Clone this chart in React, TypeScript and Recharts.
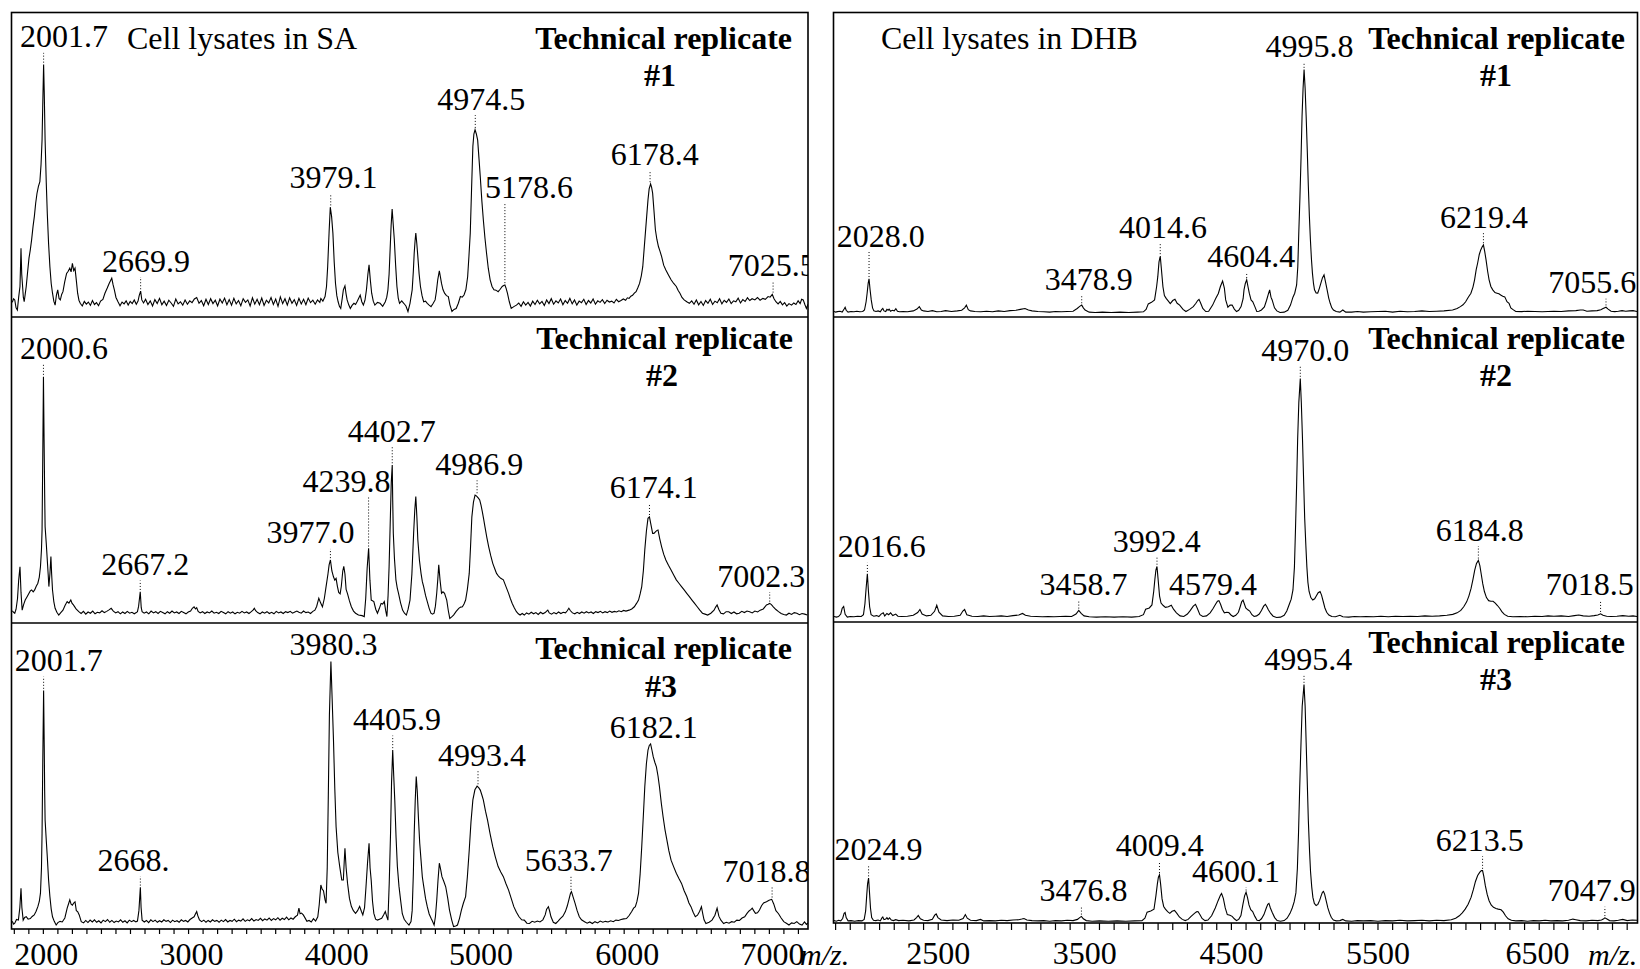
import { LineChart, Line, XAxis, YAxis, ReferenceLine, ReferenceDot } from "recharts";

type Pt = [number, number];
interface Peak {
  mz: number;
  top: number;
  text: string;
  lx: number;
  ly: number;
}

// m/z, relative intensity (0 = panel floor, 100 = panel top)
const saRep1: Pt[] = [
  [1786, 4.8], [1795, 6.0], [1803, 5.6], [1812, 3.0], [1821, 2.3], [1830, 6.5], [1839, 10], [1846, 22.5], [1851, 14], [1857, 10],
  [1862, 6.5], [1868, 5], [1875, 7.5], [1882, 10], [1890, 14], [1901, 19.3], [1910, 22], [1919, 25.3], [1929, 29.7], [1938, 33],
  [1947, 37.3], [1956, 40.5], [1966, 42.8], [1976, 44.4], [1984, 50], [1991, 58], [1996, 70], [2001.7, 82.8], [2006, 74], [2012, 58],
  [2020, 44], [2027, 34], [2036, 24], [2045, 16.5], [2054, 11], [2063, 7.8], [2072, 5.2], [2081, 3.9], [2090, 7.2], [2099, 8.9],
  [2108, 6.1], [2117, 5.6], [2126, 7.4], [2135, 8.3], [2147, 11.5], [2160, 14.3], [2171, 15], [2182, 16], [2191, 14.8], [2200, 17.6],
  [2209, 15.2], [2218, 16], [2227, 12], [2236, 7.8], [2245, 5.5], [2254, 4.5], [2268, 3.6], [2282, 5.1], [2296, 4.2], [2310, 4.9],
  [2324, 3.8], [2338, 5.4], [2352, 4.1], [2366, 4.7], [2380, 3.7], [2394, 5.2], [2410, 5.8], [2424, 7.8], [2440, 9.5], [2453, 11],
  [2471, 12.7], [2480, 10.6], [2489, 8.9], [2500, 6.4], [2514, 5], [2528, 3.7], [2542, 4.9], [2556, 4.3], [2570, 5.3], [2584, 3.9],
  [2598, 5.1], [2612, 4.4], [2626, 5.6], [2640, 4.2], [2652, 5.2], [2660, 7], [2669.9, 8.5], [2678, 5.6], [2690, 4.6], [2704, 5.8],
  [2720, 4.1], [2736, 5.3], [2752, 3.6], [2768, 5.7], [2784, 4.4], [2800, 6.1], [2816, 4.0], [2832, 5.2], [2848, 3.8], [2864, 5.5],
  [2880, 4.6], [2896, 3.5], [2912, 5.9], [2928, 4.3], [2944, 5.0], [2960, 3.9], [2976, 5.6], [2992, 4.2], [3008, 5.3], [3024, 4.7],
  [3040, 5.9], [3056, 6.4], [3072, 4.5], [3088, 5.4], [3104, 3.7], [3120, 5.8], [3136, 4.1], [3152, 6.0], [3168, 4.4], [3184, 5.5],
  [3200, 3.6], [3216, 5.9], [3232, 4.6], [3248, 6.2], [3264, 4.0], [3280, 5.7], [3296, 3.9], [3312, 6.1], [3328, 4.3], [3344, 5.4],
  [3360, 3.7], [3376, 6.0], [3392, 4.8], [3408, 5.6], [3424, 3.6], [3440, 6.3], [3456, 4.2], [3472, 5.8], [3488, 4.0], [3504, 6.2],
  [3520, 3.8], [3536, 5.5], [3552, 4.6], [3568, 6.4], [3584, 4.1], [3600, 5.9], [3616, 3.5], [3632, 6.6], [3648, 4.4], [3664, 6.0],
  [3680, 3.9], [3696, 6.3], [3712, 4.5], [3728, 5.7], [3744, 3.8], [3760, 6.1], [3776, 4.3], [3792, 5.8], [3808, 4.0], [3824, 6.2],
  [3840, 4.7], [3856, 5.5], [3872, 4.2], [3888, 5.6], [3904, 4.8], [3911, 6.1], [3925, 5.2], [3940, 6.7], [3950, 10], [3958, 16.5],
  [3968, 28], [3976, 36], [3985, 33], [3994, 27.5], [4003, 18], [4012, 11], [4021, 7], [4030, 5], [4039, 3.5], [4048, 2.8],
  [4058, 6], [4066, 8.9], [4077, 10.2], [4085, 7.5], [4092, 5.6], [4103, 4], [4114, 2.8], [4126, 3.8], [4139, 4.5], [4150, 4.1],
  [4162, 5.2], [4175, 6.5], [4182, 7.2], [4193, 5.0], [4204, 3.9], [4215, 5.5], [4225, 8.9], [4235, 14], [4243, 17.1], [4252, 12],
  [4261, 7.8], [4272, 5.2], [4283, 3.9], [4301, 4.8], [4319, 4.5], [4337, 3.5], [4355, 5], [4365, 6.5], [4373, 8.9], [4381, 14],
  [4388, 22], [4395, 30], [4402, 35.4], [4410, 30], [4417, 25.3], [4426, 17], [4435, 10], [4444, 6.2], [4453, 4.5], [4468, 5.3],
  [4482, 4.5], [4497, 3.6], [4511, 1.8], [4525, 4.5], [4540, 8.9], [4548, 15], [4554, 21], [4560, 25], [4565, 27.5], [4572, 24],
  [4579, 19.8], [4588, 14], [4597, 10], [4608, 7], [4619, 5], [4632, 5.2], [4644, 4.5], [4657, 3.9], [4670, 3.4], [4684, 4.4],
  [4698, 5.6], [4707, 8.5], [4716, 12.2], [4727, 15.1], [4735, 13], [4742, 11], [4752, 9], [4763, 7.8], [4776, 7.0], [4789, 6.7],
  [4800, 4.0], [4814, 1.8], [4828, 2.5], [4843, 2.8], [4858, 4.5], [4872, 6.7], [4885, 6.5], [4897, 7.2], [4910, 9], [4922, 13.2],
  [4931, 20], [4940, 27.5], [4949, 42], [4958, 56], [4965, 60], [4973, 61.4], [4982, 60], [4991, 58], [5000, 52], [5009, 46],
  [5020, 38], [5030, 31.9], [5041, 26], [5052, 21], [5064, 16], [5077, 12.2], [5090, 10], [5103, 8.9], [5117, 8.8], [5132, 8.3],
  [5146, 9.1], [5160, 10], [5170, 10.3], [5178.6, 10.5], [5187, 9.4], [5196, 7.8], [5209, 5], [5222, 2.8], [5240, 3.4], [5258, 3.9],
  [5274, 4.6], [5290, 3.5], [5306, 5.0], [5322, 3.9], [5338, 4.8], [5354, 3.6], [5370, 5.2], [5386, 4.1], [5402, 5.5], [5418, 4.3],
  [5434, 5.1], [5450, 3.8], [5466, 5.6], [5482, 4.4], [5498, 6.0], [5514, 4.2], [5530, 5.3], [5546, 4.6], [5562, 5.9], [5578, 4.0],
  [5594, 5.4], [5610, 4.5], [5626, 6.1], [5642, 4.3], [5658, 5.6], [5674, 3.9], [5690, 5.2], [5706, 4.7], [5722, 5.8], [5738, 4.1],
  [5754, 5.4], [5770, 4.6], [5786, 5.9], [5802, 4.2], [5818, 5.3], [5834, 4.8], [5850, 5.7], [5866, 4.4], [5882, 5.5], [5898, 4.9],
  [5914, 5.2], [5930, 4.6], [5946, 5.8], [5962, 5.0], [5978, 5.4], [5994, 5.9], [6010, 5.5], [6022, 6.3], [6034, 6.1], [6046, 6.8],
  [6058, 7.1], [6070, 7.8], [6082, 8.3], [6094, 9.6], [6106, 11], [6118, 13.5], [6128, 16.5], [6137, 22], [6146, 27.5], [6155, 33],
  [6164, 38.4], [6172, 42], [6182, 43.6], [6189, 42.5], [6196, 40.6], [6205, 35], [6215, 28.6], [6225, 25.5], [6236, 23.1], [6247, 21.5],
  [6258, 19.8], [6272, 17], [6287, 15.4], [6305, 13.8], [6323, 12.2], [6341, 11], [6359, 10], [6372, 8.7], [6384, 7.8], [6398, 6.4],
  [6413, 5.6], [6431, 5.0], [6449, 4.5], [6465, 5.3], [6481, 4.2], [6497, 5.6], [6513, 4.0], [6529, 5.1], [6545, 3.8], [6561, 5.4],
  [6577, 4.5], [6593, 5.8], [6609, 4.1], [6625, 5.2], [6641, 4.7], [6657, 6.0], [6673, 4.3], [6689, 5.5], [6705, 4.8], [6721, 5.9],
  [6737, 4.4], [6753, 5.3], [6769, 5.0], [6785, 6.2], [6801, 4.6], [6817, 5.7], [6833, 5.1], [6849, 6.3], [6865, 5.4], [6881, 6.0],
  [6900, 5.6], [6918, 6.4], [6936, 5.5], [6955, 6.1], [6972, 5.8], [6991, 6.7], [7005, 6.5], [7020, 7.4], [7032, 6.0], [7045, 5],
  [7060, 4.3], [7075, 5.1], [7090, 4.0], [7105, 4.7], [7120, 3.6], [7135, 4.4], [7153, 3.9], [7168, 4.6], [7183, 4.1], [7198, 5.3],
  [7212, 4.4], [7222, 5.8], [7233, 5.6], [7245, 4.0], [7255, 2.8], [7266, 4.2],
];

const saRep2: Pt[] = [
  [1786, 4.0], [1795, 3.5], [1803, 3.2], [1812, 4.5], [1822, 8], [1830, 14], [1839, 18.4], [1846, 10], [1854, 4.2], [1864, 6],
  [1875, 7.5], [1888, 8.6], [1901, 9.7], [1910, 10.5], [1919, 10.8], [1930, 10.2], [1940, 10.8], [1951, 12], [1962, 13], [1972, 15],
  [1980, 18.4], [1987, 24], [1991, 30.4], [1996, 55], [2000.6, 80.5], [2005, 60], [2009, 42], [2012, 31.5], [2020, 26], [2027, 20.6],
  [2033, 16], [2038, 11.9], [2045, 16], [2052, 21.7], [2057, 16], [2063, 10.8], [2072, 7], [2081, 4.8], [2093, 3.5], [2106, 2.6],
  [2120, 3.4], [2135, 4.2], [2150, 5.8], [2164, 7], [2176, 6.5], [2189, 7.5], [2198, 6.4], [2207, 5.9], [2225, 4.6], [2244, 3.7],
  [2260, 3.1], [2276, 3.8], [2292, 2.9], [2308, 3.6], [2324, 3.2], [2340, 3.9], [2356, 3.0], [2372, 3.5], [2388, 3.3], [2404, 4.0],
  [2420, 3.4], [2436, 3.8], [2452, 4.3], [2467, 4.8], [2482, 3.9], [2498, 3.3], [2514, 3.7], [2530, 3.0], [2546, 3.6], [2562, 3.1],
  [2578, 3.8], [2594, 3.2], [2610, 3.5], [2626, 3.0], [2640, 3.4], [2648, 3.7], [2656, 5.5], [2667.2, 10.2], [2674, 5.0], [2680, 3.7],
  [2694, 3.2], [2710, 3.6], [2726, 3.0], [2742, 3.9], [2758, 3.3], [2774, 3.7], [2790, 3.1], [2806, 3.8], [2822, 3.4], [2838, 3.0],
  [2854, 3.7], [2870, 3.2], [2886, 3.9], [2902, 3.3], [2918, 3.6], [2934, 3.1], [2950, 3.8], [2966, 3.4], [2982, 3.0], [2998, 3.6],
  [3014, 3.9], [3026, 4.8], [3038, 5.3], [3047, 4.6], [3056, 5.0], [3066, 3.8], [3080, 3.3], [3096, 3.7], [3112, 3.1], [3128, 3.6],
  [3144, 3.3], [3160, 3.9], [3176, 3.2], [3192, 3.5], [3208, 3.1], [3224, 3.8], [3240, 3.4], [3256, 3.0], [3272, 3.7], [3288, 3.2],
  [3304, 3.6], [3320, 3.0], [3336, 3.5], [3352, 3.2], [3368, 3.8], [3384, 3.3], [3400, 3.6], [3416, 3.1], [3432, 3.7], [3444, 4.2],
  [3453, 4.8], [3462, 4.0], [3476, 3.4], [3492, 3.0], [3508, 3.6], [3524, 3.2], [3540, 3.7], [3556, 3.1], [3572, 3.5], [3588, 3.0],
  [3604, 3.8], [3620, 3.3], [3636, 3.6], [3652, 3.1], [3668, 3.7], [3684, 3.4], [3700, 3.8], [3716, 3.2], [3732, 3.6], [3746, 3.9],
  [3760, 3.5], [3776, 3.2], [3792, 3.9], [3808, 3.4], [3824, 3.6], [3840, 3.1], [3856, 3.8], [3870, 4.2], [3882, 5.4], [3897, 8.1],
  [3910, 6.5], [3922, 5.3], [3935, 8], [3947, 11.9], [3960, 16], [3968, 19], [3977, 20.6], [3987, 17], [3998, 15.1], [4007, 14],
  [4016, 14.6], [4025, 12], [4034, 10], [4044, 9.5], [4052, 12], [4062, 17], [4069, 18.5], [4077, 16], [4085, 11], [4095, 9.5],
  [4108, 7.2], [4121, 5.3], [4136, 3.9], [4150, 3.2], [4170, 2.6], [4195, 2.4], [4210, 2.1], [4220, 8], [4230, 18], [4240, 24.4],
  [4249, 14], [4258, 7.5], [4276, 7.0], [4289, 4.5], [4301, 3.2], [4314, 4.8], [4326, 6.4], [4337, 6.2], [4348, 7.0], [4357, 4.2],
  [4366, 2.1], [4374, 9], [4381, 18.4], [4390, 35], [4396, 46], [4402.7, 51.6], [4406, 40], [4410, 29.3], [4418, 21], [4428, 14.1],
  [4437, 11.5], [4446, 9.7], [4460, 6.6], [4474, 4.2], [4487, 3.2], [4500, 2.6], [4512, 4.5], [4525, 7.5], [4538, 16], [4550, 29.3],
  [4558, 37], [4565, 41.3], [4572, 35], [4579, 27.1], [4590, 20.5], [4601, 16.2], [4610, 13.5], [4619, 11.9], [4632, 9], [4644, 7.0],
  [4657, 4.8], [4669, 3.2], [4680, 2.9], [4691, 3.2], [4700, 5.5], [4709, 9.7], [4716, 14], [4723, 19], [4732, 14], [4742, 9.7],
  [4752, 10.2], [4763, 9.7], [4778, 7.5], [4789, 4.0], [4799, 1.5], [4812, 2.0], [4825, 2.6], [4843, 3.8], [4861, 4.8], [4874, 5.2],
  [4886, 5.3], [4897, 6.2], [4908, 7.5], [4920, 11], [4933, 16.2], [4942, 25], [4951, 34.7], [4962, 39.5], [4973, 41.8], [4980, 41.6],
  [4986.9, 41.3], [4996, 40.8], [5005, 40.2], [5014, 38.5], [5023, 36.4], [5032, 34], [5041, 31.5], [5054, 28], [5067, 24.9], [5081, 22],
  [5095, 19.5], [5108, 17.8], [5121, 16.2], [5136, 15.2], [5150, 14.6], [5168, 14.1], [5186, 11.9], [5204, 9.7], [5216, 8], [5229, 6.4],
  [5243, 5.0], [5258, 3.7], [5271, 3.0], [5283, 2.6], [5298, 3.1], [5312, 2.6], [5328, 3.3], [5344, 2.9], [5360, 3.5], [5376, 3.0],
  [5392, 3.4], [5408, 2.8], [5424, 3.5], [5440, 3.0], [5456, 3.4], [5466, 3.9], [5474, 4.2], [5484, 3.3], [5500, 2.9], [5516, 3.4],
  [5532, 3.0], [5548, 3.6], [5564, 3.1], [5580, 3.5], [5596, 3.3], [5608, 4.0], [5619, 4.8], [5630, 4.0], [5644, 3.3], [5660, 3.0],
  [5676, 3.5], [5692, 3.1], [5708, 3.6], [5724, 3.2], [5740, 3.7], [5756, 3.3], [5772, 3.6], [5788, 3.1], [5804, 3.7], [5820, 3.4],
  [5836, 3.8], [5852, 3.3], [5868, 3.7], [5884, 3.4], [5900, 3.9], [5916, 3.5], [5932, 3.8], [5948, 3.6], [5964, 4.0], [5980, 3.7],
  [5996, 4.1], [6012, 3.9], [6034, 4.2], [6052, 4.6], [6070, 5.3], [6085, 6.4], [6099, 7.5], [6110, 9.5], [6121, 11.9], [6132, 17],
  [6142, 23.9], [6153, 30], [6164, 34.2], [6174.1, 34.7], [6187, 31.5], [6196, 29.3], [6205, 29.3], [6215, 29.8], [6224, 30.2], [6233, 30.4],
  [6245, 27.5], [6258, 24.9], [6272, 22.5], [6287, 20.6], [6305, 18.9], [6323, 17.3], [6341, 15.7], [6359, 14.1], [6377, 13], [6395, 11.9],
  [6413, 10.8], [6431, 9.7], [6449, 8.6], [6467, 7.5], [6485, 6.4], [6503, 5.3], [6521, 4.2], [6539, 3.2], [6557, 2.9], [6575, 2.6],
  [6597, 3.2], [6619, 4.2], [6630, 5.2], [6640, 5.9], [6652, 4.4], [6666, 3.2], [6684, 3.0], [6702, 3.7], [6720, 3.7], [6738, 3.1],
  [6756, 3.6], [6774, 3.0], [6792, 3.2], [6810, 3.8], [6828, 3.4], [6846, 3.9], [6864, 3.7], [6882, 3.3], [6900, 3.9], [6919, 3.6],
  [6937, 4.2], [6958, 4.6], [6980, 5.9], [6992, 6.1], [7002, 6.4], [7014, 6.0], [7027, 5.3], [7045, 4.4], [7063, 3.7], [7081, 3.1],
  [7099, 2.8], [7117, 2.6], [7135, 3.2], [7153, 2.8], [7171, 3.4], [7189, 3.2], [7207, 2.7], [7225, 3.1], [7243, 2.9], [7261, 2.6],
];

const saRep3: Pt[] = [
  [1786, 2.5], [1795, 1.6], [1803, 1.9], [1815, 3.1], [1828, 2.9], [1838, 7], [1846, 13.3], [1852, 7], [1861, 2.9], [1871, 3.8],
  [1882, 4.0], [1895, 3.2], [1910, 3.4], [1923, 4.1], [1937, 4.6], [1950, 5.8], [1962, 7.3], [1972, 9], [1980, 11.7], [1987, 20],
  [1991, 31.3], [1996, 55], [2001.7, 77.9], [2006, 60], [2009, 45], [2012, 35.6], [2020, 29], [2027, 23.6], [2036, 16], [2045, 10.6],
  [2054, 6.5], [2063, 4.0], [2075, 2.5], [2088, 1.3], [2100, 2.1], [2115, 2.5], [2130, 2.3], [2148, 3.6], [2164, 6.8], [2172, 8],
  [2182, 9.5], [2191, 8.1], [2200, 7.8], [2209, 8.5], [2218, 8.9], [2227, 6], [2236, 5.7], [2247, 4.6], [2261, 2.4], [2277, 2.0],
  [2292, 2.8], [2307, 2.1], [2322, 2.9], [2337, 2.3], [2352, 3.0], [2367, 2.2], [2382, 2.7], [2397, 2.0], [2412, 2.9], [2427, 2.4],
  [2442, 3.1], [2457, 2.2], [2472, 2.8], [2487, 2.1], [2502, 2.6], [2517, 2.3], [2532, 3.0], [2547, 2.2], [2562, 2.7], [2577, 2.0],
  [2592, 2.9], [2607, 2.4], [2622, 2.8], [2637, 2.3], [2648, 2.6], [2658, 6], [2668, 13.6], [2673, 7], [2680, 2.9], [2695, 2.3],
  [2710, 2.8], [2725, 2.1], [2740, 3.0], [2755, 2.4], [2770, 2.9], [2785, 2.2], [2800, 2.7], [2815, 2.3], [2830, 3.0], [2845, 2.5],
  [2860, 2.8], [2875, 2.1], [2890, 2.9], [2905, 2.4], [2920, 2.7], [2935, 2.2], [2950, 3.0], [2965, 2.5], [2980, 2.8], [2995, 2.3],
  [3010, 3.1], [3025, 3.6], [3038, 4.0], [3048, 5.0], [3056, 5.7], [3064, 4.3], [3075, 3.0], [3090, 2.4], [3105, 2.9], [3120, 2.2],
  [3135, 2.8], [3150, 2.3], [3165, 3.0], [3180, 2.5], [3195, 2.8], [3210, 2.2], [3225, 2.9], [3240, 2.4], [3255, 3.1], [3270, 2.3],
  [3285, 2.8], [3300, 2.5], [3315, 3.2], [3330, 2.4], [3345, 2.9], [3360, 2.6], [3375, 3.3], [3390, 2.5], [3405, 3.0], [3420, 2.7],
  [3435, 3.4], [3450, 2.6], [3465, 3.1], [3480, 2.8], [3495, 3.5], [3510, 2.7], [3525, 3.3], [3540, 2.9], [3555, 3.6], [3570, 2.8],
  [3585, 3.4], [3600, 3.0], [3615, 3.7], [3630, 2.9], [3645, 3.5], [3660, 3.1], [3675, 3.9], [3690, 3.0], [3705, 3.6], [3720, 3.2],
  [3735, 4.0], [3750, 4.5], [3760, 6.8], [3768, 5], [3778, 5.2], [3790, 4.6], [3800, 3.8], [3815, 2.5], [3830, 2.8], [3845, 2.3],
  [3860, 3.4], [3875, 2.6], [3890, 4], [3900, 8], [3911, 14.4], [3920, 13], [3929, 12.5], [3940, 9.5], [3947, 8.4], [3955, 20],
  [3962, 42.2], [3970, 70], [3980.3, 87.4], [3989, 75], [3998, 61.8], [4007, 46], [4016, 33.4], [4028, 25], [4041, 20.4], [4055, 16],
  [4066, 16], [4072, 22], [4077, 26.4], [4085, 20], [4095, 14.9], [4108, 10], [4121, 7.4], [4135, 6], [4150, 5.1], [4164, 6],
  [4178, 7.4], [4190, 5.8], [4200, 4.6], [4212, 7], [4222, 13.8], [4233, 22], [4243, 28], [4250, 20], [4258, 15.8], [4267, 9],
  [4276, 5.1], [4288, 3.2], [4301, 2.9], [4315, 3.2], [4330, 3.5], [4343, 4.6], [4355, 5.7], [4364, 4.2], [4373, 2.9], [4382, 15],
  [4391, 31.3], [4398, 48], [4405.9, 58.5], [4413, 50], [4420, 42.2], [4429, 30], [4438, 20.4], [4449, 14], [4460, 9.5], [4472, 5],
  [4485, 3.2], [4500, 2.2], [4518, 1.3], [4532, 2.4], [4540, 6], [4548, 18], [4554, 31.3], [4561, 42], [4568, 49.8], [4575, 45],
  [4583, 36.4], [4592, 28], [4601, 22.5], [4610, 17], [4619, 14.1], [4632, 10], [4644, 7.3], [4657, 4.9], [4670, 3.5], [4680, 2.5],
  [4691, 1.3], [4700, 4], [4709, 9.3], [4718, 16], [4727, 21.5], [4736, 19.5], [4745, 17.1], [4758, 15.5], [4771, 13.8], [4785, 10],
  [4797, 6.2], [4812, 3.0], [4825, 0.8], [4840, 1.0], [4852, 1.3], [4866, 3.5], [4879, 6.2], [4893, 8.5], [4908, 10.6], [4920, 17],
  [4933, 25.8], [4945, 35], [4958, 42.2], [4972, 45.5], [4987, 46.7], [4998, 46.2], [5009, 45.4], [5020, 43.8], [5030, 42.2], [5045, 38.5],
  [5059, 35.6], [5077, 31], [5095, 26.9], [5113, 23.5], [5132, 20.4], [5150, 18.6], [5168, 17.1], [5186, 14.8], [5204, 12.7], [5222, 10],
  [5240, 7.3], [5258, 5.5], [5276, 4.0], [5294, 3.0], [5312, 2.9], [5330, 1.9], [5348, 1.8], [5366, 2.5], [5384, 2.2], [5402, 2.6],
  [5420, 2.3], [5440, 3.0], [5456, 4.6], [5466, 6.5], [5478, 7.3], [5487, 5.8], [5496, 4.0], [5512, 2.2], [5529, 1.8], [5545, 2.6],
  [5560, 3.4], [5578, 4.2], [5595, 5.7], [5608, 7.5], [5619, 9.5], [5630, 11.6], [5637, 12.2], [5648, 10.5], [5662, 8.4], [5676, 6.0],
  [5691, 4.0], [5706, 3.0], [5727, 2.4], [5745, 1.9], [5763, 2.3], [5781, 1.8], [5799, 2.4], [5817, 2.0], [5835, 2.6], [5853, 2.2],
  [5871, 2.5], [5889, 2.3], [5907, 2.7], [5925, 2.4], [5943, 2.9], [5961, 2.8], [5979, 3.1], [5997, 3.3], [6016, 3.4], [6034, 4.4],
  [6052, 5.7], [6065, 6.8], [6077, 7.3], [6088, 9], [6099, 11.7], [6110, 18], [6121, 26.9], [6132, 37], [6142, 46.5], [6153, 54],
  [6164, 58.5], [6173, 60], [6182, 60.5], [6191, 58.5], [6200, 56.3], [6211, 54.5], [6222, 53], [6233, 50], [6243, 46.5], [6256, 41],
  [6268, 36.7], [6281, 32.5], [6294, 29.1], [6308, 25.5], [6323, 22.5], [6341, 20.3], [6359, 18.2], [6377, 16.5], [6395, 14.9], [6413, 12.5],
  [6431, 10.6], [6446, 8.5], [6460, 7.3], [6475, 5.5], [6490, 4.0], [6505, 4.5], [6520, 5.8], [6532, 7.3], [6542, 4.8], [6550, 3.0],
  [6563, 1.8], [6585, 2.2], [6605, 2.9], [6625, 4.5], [6640, 6.8], [6652, 4.2], [6666, 2.9], [6685, 1.8], [6703, 2.2], [6722, 1.9],
  [6740, 2.4], [6758, 2.2], [6776, 2.9], [6794, 2.8], [6812, 3.6], [6830, 4.0], [6846, 5.1], [6860, 5.9], [6874, 6.4], [6882, 6.8],
  [6892, 6.0], [6904, 5.1], [6918, 5.3], [6932, 6.2], [6946, 7.6], [6960, 8.5], [6980, 8.9], [6998, 9.4], [7016, 9.7], [7030, 8.2],
  [7045, 6.0], [7063, 5.0], [7081, 3.6], [7099, 2.4], [7117, 1.9], [7135, 1.3], [7153, 2.0], [7171, 1.8], [7189, 2.4], [7207, 1.6],
  [7225, 1.3], [7242, 2.3], [7255, 1.5], [7266, 2.0],
];

const dhbRep1: Pt[] = [
  [1789, 1.8], [1800, 1.6], [1812, 1.75], [1830, 1.9], [1845, 1.6], [1858, 2.6], [1865, 3.2], [1872, 2.2], [1885, 1.6], [1905, 1.8],
  [1925, 1.7], [1945, 1.9], [1965, 1.7], [1985, 1.8], [1997, 2.3], [2008, 5], [2015, 7.8], [2022, 11], [2028, 12.5], [2035, 9],
  [2043, 5.6], [2052, 3], [2061, 2.0], [2075, 1.8], [2090, 2.0], [2105, 1.7], [2114, 2.4], [2122, 2.8], [2130, 2.0], [2142, 1.8],
  [2150, 2.5], [2158, 2.2], [2165, 2.6], [2175, 1.9], [2186, 2.2], [2200, 2.0], [2211, 2.7], [2222, 1.9], [2236, 1.7], [2260, 1.8],
  [2290, 1.7], [2330, 2.0], [2355, 2.6], [2371, 3.4], [2385, 2.3], [2400, 2.0], [2430, 1.8], [2460, 2.1], [2490, 1.7], [2520, 1.8],
  [2550, 2.1], [2590, 1.8], [2630, 2.0], [2660, 2.2], [2680, 3.0], [2692, 3.9], [2705, 2.4], [2720, 2.0], [2750, 1.8], [2790, 1.7],
  [2830, 1.9], [2870, 1.7], [2910, 2.0], [2950, 1.8], [2990, 2.1], [3030, 2.2], [3060, 2.5], [3092, 2.8], [3115, 2.3], [3140, 2.0],
  [3180, 1.8], [3220, 1.7], [3260, 1.6], [3300, 1.8], [3340, 1.7], [3380, 1.8], [3420, 1.9], [3448, 2.8], [3465, 3.5], [3478.9, 3.9],
  [3490, 3.0], [3502, 2.3], [3530, 1.6], [3570, 1.5], [3620, 1.6], [3680, 1.5], [3740, 1.6], [3800, 1.5], [3860, 1.6], [3900, 1.7],
  [3918, 2.5], [3933, 4.3], [3955, 4.8], [3976, 5.6], [3990, 10], [3998, 13.3], [4006, 18], [4014.6, 20], [4022, 16], [4033, 9.9],
  [4043, 7], [4055, 6.1], [4070, 5.2], [4083, 4.4], [4100, 5.4], [4115, 5.8], [4130, 4.5], [4147, 3.9], [4170, 2.5], [4190, 1.8],
  [4215, 2.5], [4240, 3.4], [4258, 4.5], [4270, 5.4], [4279, 5.8], [4290, 4.6], [4305, 2.8], [4325, 1.8], [4345, 1.9], [4372, 3.9],
  [4392, 6], [4411, 7.7], [4425, 10], [4440, 11.8], [4452, 9.5], [4461, 5.6], [4476, 3.2], [4491, 3.9], [4505, 3.9], [4520, 2.6],
  [4535, 1.8], [4550, 2.2], [4566, 3.4], [4580, 6], [4586, 8.9], [4595, 11], [4604.4, 12.2], [4613, 10], [4622, 7.8], [4634, 5.6],
  [4646, 5.0], [4660, 3.4], [4673, 1.8], [4688, 1.9], [4705, 2.3], [4725, 3.3], [4740, 5.5], [4752, 7.5], [4761, 8.9], [4770, 6.5],
  [4778, 5.6], [4794, 3], [4810, 2], [4832, 1.5], [4860, 1.6], [4885, 2.2], [4903, 3.9], [4920, 6.5], [4932, 7.8], [4945, 10.5],
  [4953, 16.5], [4960, 28], [4967, 38.4], [4975, 52], [4982, 65.8], [4989, 75], [4995.8, 81.1], [5003, 75], [5010, 65.8], [5018, 54],
  [5025, 42.8], [5032, 33], [5039, 25.3], [5046, 19], [5053, 14.3], [5060, 11], [5067, 8.9], [5078, 7.9], [5089, 7.8], [5100, 9.4],
  [5110, 11], [5121, 12.8], [5132, 13.8], [5142, 11.5], [5153, 8.9], [5164, 6.2], [5174, 4.5], [5185, 3.0], [5196, 2.3], [5215, 1.8],
  [5240, 1.6], [5260, 2.3], [5280, 1.6], [5320, 1.6], [5360, 1.8], [5400, 1.6], [5450, 1.7], [5500, 1.8], [5550, 1.9], [5600, 1.6],
  [5650, 1.9], [5700, 1.7], [5750, 1.8], [5800, 2.0], [5850, 1.8], [5900, 1.9], [5950, 2.0], [6009, 2.3], [6040, 2.8], [6062, 3.4],
  [6080, 4.0], [6098, 5.0], [6116, 6.5], [6134, 7.8], [6148, 9.8], [6159, 12.2], [6170, 15.5], [6180, 17.7], [6191, 20.5], [6201, 22],
  [6211, 23], [6219.4, 23.6], [6228, 21.5], [6237, 18.8], [6248, 15], [6258, 12.2], [6270, 10], [6283, 8.9], [6298, 8.0], [6312, 7.8],
  [6325, 7.6], [6337, 7.2], [6351, 6.8], [6365, 6.6], [6380, 5.0], [6394, 4.5], [6406, 3.0], [6419, 2.5], [6440, 1.8], [6480, 1.75],
  [6520, 1.9], [6570, 1.8], [6620, 1.7], [6660, 1.8], [6700, 1.9], [6750, 1.8], [6800, 2.0], [6850, 2.1], [6880, 2.3], [6900, 2.3],
  [6925, 1.9], [6960, 2.0], [6995, 2.1], [7020, 2.4], [7036, 2.8], [7055.6, 3.2], [7070, 2.6], [7090, 1.9], [7115, 1.75], [7140, 1.9],
  [7165, 2.1], [7190, 1.9], [7215, 2.0], [7240, 2.1], [7267, 1.8],
];

const dhbRep2: Pt[] = [
  [1789, 1.8], [1805, 1.6], [1820, 1.8], [1835, 2.6], [1845, 4.5], [1855, 5.1], [1865, 2.5], [1880, 1.6], [1900, 1.8], [1925, 1.7],
  [1950, 1.9], [1975, 1.8], [1990, 2.4], [2000, 6], [2008, 11], [2016.6, 15.8], [2024, 10], [2032, 5], [2042, 2.4], [2060, 1.9],
  [2080, 2.1], [2095, 1.8], [2110, 2.6], [2125, 3.0], [2135, 2.0], [2150, 2.8], [2162, 2.4], [2175, 3.0], [2190, 2.1], [2210, 2.6],
  [2225, 1.9], [2250, 1.8], [2290, 1.9], [2330, 2.2], [2360, 3.1], [2375, 4.1], [2390, 2.6], [2420, 2.0], [2450, 2.2], [2475, 3.5],
  [2490, 5.5], [2505, 3.2], [2530, 2.0], [2570, 1.8], [2610, 1.9], [2650, 2.2], [2668, 3.6], [2680, 4.1], [2695, 2.4], [2730, 1.9],
  [2770, 1.8], [2810, 2.0], [2850, 1.8], [2890, 1.9], [2930, 2.0], [2970, 1.8], [3010, 2.1], [3050, 2.3], [3075, 2.8], [3095, 2.2],
  [3130, 1.9], [3170, 1.8], [3210, 1.7], [3250, 1.8], [3290, 1.7], [3330, 1.8], [3370, 1.9], [3410, 1.8], [3440, 2.6], [3458.7, 3.8],
  [3475, 2.8], [3495, 2.0], [3530, 1.7], [3580, 1.6], [3640, 1.7], [3700, 1.6], [3760, 1.7], [3820, 1.6], [3870, 1.8], [3900, 2.4],
  [3915, 4.2], [3940, 4.6], [3958, 5.6], [3970, 10], [3978, 14], [3985, 17], [3992.4, 18.2], [4000, 14], [4010, 8.5], [4020, 6.2],
  [4035, 5.4], [4050, 4.8], [4070, 5.0], [4090, 5.5], [4105, 4.2], [4125, 3.0], [4150, 2.0], [4175, 1.8], [4200, 2.6], [4220, 3.8],
  [4240, 5.2], [4255, 5.8], [4268, 4.4], [4285, 2.4], [4305, 1.8], [4330, 2.0], [4355, 3.0], [4375, 4.4], [4392, 5.8], [4405, 6.8],
  [4415, 7.0], [4426, 5.8], [4438, 4.2], [4452, 3.0], [4468, 3.2], [4482, 3.1], [4497, 2.3], [4512, 1.8], [4530, 2.2], [4548, 3.2],
  [4560, 5.0], [4570, 6.6], [4579.4, 7.2], [4588, 6.0], [4598, 4.6], [4612, 4.0], [4625, 3.6], [4640, 2.4], [4655, 1.8], [4672, 2.0],
  [4690, 2.6], [4705, 3.8], [4720, 5.2], [4732, 5.8], [4742, 5.0], [4752, 4.0], [4768, 2.8], [4785, 1.9], [4808, 1.5], [4835, 1.6],
  [4860, 2.2], [4878, 3.6], [4895, 5.8], [4908, 7.5], [4920, 10.5], [4930, 18], [4937, 30], [4945, 45], [4952, 60], [4960, 72],
  [4970, 79.8], [4977, 72], [4985, 60], [4993, 46], [5000, 34], [5008, 25], [5015, 18], [5022, 13], [5030, 10], [5042, 8],
  [5055, 7.2], [5068, 7.6], [5080, 8.6], [5092, 9.6], [5105, 10.0], [5115, 8.8], [5126, 6.8], [5138, 4.6], [5150, 3.2], [5165, 2.3],
  [5185, 1.8], [5210, 1.7], [5240, 2.2], [5260, 1.7], [5300, 1.6], [5340, 1.8], [5380, 1.7], [5420, 1.8], [5470, 1.7], [5520, 1.9],
  [5570, 1.7], [5620, 1.9], [5670, 1.8], [5720, 1.9], [5770, 1.8], [5820, 2.0], [5870, 1.9], [5920, 2.0], [5970, 2.2], [6010, 2.5],
  [6040, 3.0], [6065, 3.8], [6085, 5.0], [6105, 6.6], [6120, 8.5], [6135, 11], [6148, 14], [6160, 17], [6172, 19.2], [6184.8, 20.2],
  [6195, 18.5], [6205, 15.5], [6215, 12.5], [6226, 10], [6240, 8.0], [6255, 7.0], [6270, 6.8], [6285, 6.8], [6300, 6.2], [6315, 5.4],
  [6330, 4.5], [6345, 3.4], [6362, 2.5], [6385, 1.9], [6420, 1.7], [6470, 1.8], [6520, 1.7], [6570, 1.9], [6620, 1.8], [6660, 2.0],
  [6700, 1.9], [6750, 2.0], [6800, 1.8], [6840, 2.1], [6870, 2.3], [6900, 2.0], [6940, 1.9], [6975, 2.1], [7000, 2.3], [7018.5, 2.7],
  [7035, 2.2], [7060, 1.9], [7090, 1.8], [7130, 1.9], [7170, 2.1], [7210, 1.9], [7240, 2.0], [7267, 1.8],
];

const dhbRep3: Pt[] = [
  [1789, 0.8], [1805, 0.6], [1820, 0.9], [1835, 0.7], [1848, 1.5], [1858, 3.2], [1865, 3.5], [1872, 1.8], [1885, 0.7], [1905, 0.8],
  [1930, 0.6], [1955, 0.8], [1980, 0.7], [1995, 1.2], [2005, 4], [2012, 9], [2018, 13], [2024.9, 14.9], [2030, 11], [2038, 5],
  [2046, 1.8], [2058, 0.9], [2075, 0.8], [2090, 1.0], [2105, 0.7], [2115, 1.6], [2122, 2.0], [2130, 1.1], [2142, 1.3], [2150, 1.8],
  [2158, 1.2], [2168, 1.7], [2180, 1.0], [2195, 0.8], [2210, 1.1], [2230, 0.8], [2260, 0.9], [2300, 0.7], [2335, 1.0], [2352, 1.8],
  [2364, 2.5], [2378, 1.4], [2400, 0.9], [2430, 0.8], [2460, 1.2], [2476, 2.6], [2486, 3.0], [2498, 1.8], [2520, 1.0], [2560, 0.8],
  [2600, 1.0], [2640, 0.9], [2670, 1.5], [2685, 2.8], [2698, 1.6], [2720, 0.9], [2760, 0.8], [2789, 1.2], [2810, 0.7], [2850, 0.8],
  [2890, 0.7], [2930, 0.9], [2970, 0.8], [3010, 1.0], [3050, 1.1], [3070, 1.3], [3085, 1.5], [3105, 1.0], [3140, 0.8], [3180, 0.7],
  [3220, 0.8], [3260, 0.6], [3300, 0.8], [3340, 0.7], [3380, 0.9], [3420, 0.8], [3450, 1.2], [3465, 1.8], [3476.8, 2.2], [3490, 1.4],
  [3510, 0.8], [3550, 0.6], [3600, 0.7], [3660, 0.6], [3720, 0.7], [3780, 0.6], [3840, 0.7], [3890, 0.8], [3910, 1.6], [3925, 3.6],
  [3950, 4.0], [3972, 4.6], [3985, 9], [3995, 13], [4002, 15.2], [4009.4, 16], [4017, 13], [4027, 8], [4038, 5.5], [4050, 4.6],
  [4065, 3.8], [4080, 3.2], [4095, 3.9], [4112, 4.2], [4128, 3.2], [4145, 2.0], [4165, 1.2], [4185, 0.8], [4205, 1.2], [4225, 2.2],
  [4248, 3.2], [4262, 3.7], [4272, 3.8], [4285, 2.8], [4300, 1.5], [4320, 0.8], [4340, 1.0], [4365, 2.4], [4390, 5], [4410, 7.5],
  [4425, 9.2], [4433, 9.8], [4445, 8.2], [4458, 5], [4472, 2.8], [4490, 2.6], [4505, 2.2], [4520, 1.4], [4535, 0.8], [4550, 1.2],
  [4565, 2.5], [4578, 6], [4590, 9], [4600.1, 10.2], [4610, 8.4], [4620, 6], [4632, 4.4], [4645, 3.8], [4660, 2.2], [4675, 0.9],
  [4690, 0.8], [4705, 1.4], [4722, 2.8], [4738, 5], [4748, 6.2], [4756, 6.5], [4766, 5], [4778, 3.6], [4795, 1.8], [4812, 0.8],
  [4835, 0.6], [4860, 0.8], [4880, 1.6], [4900, 3.2], [4915, 5], [4928, 7], [4940, 10], [4950, 18], [4958, 30], [4966, 45],
  [4975, 60], [4983, 72], [4995.4, 79.2], [5003, 72], [5010, 60], [5018, 46], [5025, 34], [5033, 24], [5040, 17], [5048, 12],
  [5056, 8.5], [5066, 6.5], [5078, 5.8], [5090, 6.2], [5102, 7.5], [5112, 9], [5121, 10.2], [5128, 10.5], [5136, 9.6], [5146, 7.5],
  [5158, 5], [5170, 3.2], [5182, 1.8], [5196, 1.0], [5215, 0.7], [5240, 0.8], [5260, 1.2], [5280, 0.7], [5320, 0.6], [5360, 0.8],
  [5400, 0.7], [5450, 0.8], [5500, 0.6], [5550, 0.8], [5600, 0.7], [5650, 0.9], [5700, 0.7], [5750, 0.8], [5800, 0.9], [5850, 0.7],
  [5900, 0.9], [5950, 0.8], [6000, 1.1], [6030, 1.6], [6055, 2.4], [6075, 3.4], [6095, 4.6], [6115, 6.2], [6135, 8.5], [6150, 11],
  [6165, 13.8], [6180, 15.8], [6195, 16.9], [6205, 17.4], [6213.5, 17.4], [6222, 15.5], [6232, 12.5], [6245, 9.5], [6258, 7.4], [6272, 6.0],
  [6288, 5.2], [6305, 4.8], [6320, 4.6], [6340, 4.4], [6355, 3.6], [6370, 2.4], [6388, 1.4], [6410, 0.9], [6440, 0.7], [6480, 0.8],
  [6520, 0.6], [6560, 0.8], [6600, 0.7], [6640, 0.9], [6680, 0.7], [6720, 0.8], [6760, 0.7], [6800, 0.9], [6830, 1.3], [6850, 1.1],
  [6880, 0.8], [6920, 0.7], [6960, 0.9], [7000, 0.8], [7025, 1.0], [7040, 1.4], [7047.9, 1.7], [7062, 1.3], [7080, 0.8], [7110, 0.7],
  [7140, 0.9], [7170, 1.2], [7200, 0.8], [7235, 1.0], [7267, 0.9],
];

// peak labels: dotted line at mz rising from intensity `top`, text centred at lx with baseline at ly
const saPeaks1: Peak[] = [
  { mz: 2001.7, top: 82.8, text: "2001.7", lx: 2142, ly: 88.4 },
  { mz: 2669.9, top: 8.5, text: "2669.9", lx: 2706, ly: 14.9 },
  { mz: 3979.1, top: 36, text: "3979.1", lx: 3998, ly: 42.3 },
  { mz: 4974.5, top: 61.4, text: "4974.5", lx: 5016, ly: 68 },
  { mz: 5178.6, top: 10.5, text: "5178.6", lx: 5344, ly: 39 },
  { mz: 6178.4, top: 43.6, text: "6178.4", lx: 6211, ly: 49.9 },
  { mz: 7025.5, top: 7.4, text: "7025.5", lx: 7016, ly: 13.5 },
];
const saPeaks2: Peak[] = [
  { mz: 2000.6, top: 80.5, text: "2000.6", lx: 2142, ly: 86.2 },
  { mz: 2667.2, top: 10.2, text: "2667.2", lx: 2702, ly: 15.7 },
  { mz: 3977.0, top: 20.6, text: "3977.0", lx: 3839, ly: 26 },
  { mz: 4239.8, top: 24.4, text: "4239.8", lx: 4088, ly: 42.9 },
  { mz: 4402.7, top: 51.6, text: "4402.7", lx: 4399, ly: 59.3 },
  { mz: 4986.9, top: 41.8, text: "4986.9", lx: 5002, ly: 48.4 },
  { mz: 6174.1, top: 34.7, text: "6174.1", lx: 6204, ly: 41 },
  { mz: 7002.3, top: 6.4, text: "7002.3", lx: 6944, ly: 11.9 },
];
const saPeaks3: Peak[] = [
  { mz: 2001.7, top: 77.9, text: "2001.7", lx: 2106, ly: 84.3 },
  { mz: 2668, top: 13.6, text: "2668.", lx: 2620, ly: 19 },
  { mz: 3980.3, top: 87.4, text: "3980.3", lx: 3998, ly: 89.5 },
  { mz: 4405.9, top: 58.5, text: "4405.9", lx: 4435, ly: 65 },
  { mz: 4993.4, top: 46.7, text: "4993.4", lx: 5020, ly: 53.4 },
  { mz: 5633.7, top: 12.2, text: "5633.7", lx: 5619, ly: 19 },
  { mz: 6182.1, top: 60.5, text: "6182.1", lx: 6204, ly: 62.5 },
  { mz: 7018.8, top: 9.7, text: "7018.8", lx: 6980, ly: 15.5 },
];
const dhbPeaks1: Peak[] = [
  { mz: 2028.0, top: 12.5, text: "2028.0", lx: 2108, ly: 23.1 },
  { mz: 3478.9, top: 3.9, text: "3478.9", lx: 3527, ly: 8.9 },
  { mz: 4014.6, top: 20, text: "4014.6", lx: 4033, ly: 25.8 },
  { mz: 4604.4, top: 12.2, text: "4604.4", lx: 4636, ly: 16.5 },
  { mz: 4995.8, top: 81.1, text: "4995.8", lx: 5032, ly: 85.3 },
  { mz: 6219.4, top: 23.6, text: "6219.4", lx: 6223, ly: 29.3 },
  { mz: 7055.6, top: 3.2, text: "7055.6", lx: 6961, ly: 7.8 },
];
const dhbPeaks2: Peak[] = [
  { mz: 2016.6, top: 15.8, text: "2016.6", lx: 2114, ly: 21.2 },
  { mz: 3458.7, top: 3.8, text: "3458.7", lx: 3491, ly: 8.9 },
  { mz: 3992.4, top: 18.2, text: "3992.4", lx: 3990, ly: 22.9 },
  { mz: 4579.4, top: 7.2, text: "4579.4", lx: 4375, ly: 8.9 },
  { mz: 4970.0, top: 79.8, text: "4970.0", lx: 5003, ly: 85.5 },
  { mz: 6184.8, top: 20.2, text: "6184.8", lx: 6195, ly: 26.7 },
  { mz: 7018.5, top: 2.7, text: "7018.5", lx: 6944, ly: 8.9 },
];
const dhbPeaks3: Peak[] = [
  { mz: 2024.9, top: 14.9, text: "2024.9", lx: 2093, ly: 20.9 },
  { mz: 3476.8, top: 2.2, text: "3476.8", lx: 3491, ly: 7.2 },
  { mz: 4009.4, top: 16, text: "4009.4", lx: 4012, ly: 22.4 },
  { mz: 4600.1, top: 10.2, text: "4600.1", lx: 4532, ly: 13.7 },
  { mz: 4995.4, top: 79.2, text: "4995.4", lx: 5025, ly: 83.9 },
  { mz: 6213.5, top: 17.4, text: "6213.5", lx: 6195, ly: 24 },
  { mz: 7047.9, top: 1.7, text: "7047.9", lx: 6958, ly: 7.2 },
];

const mzTicks = [
  1800, 1900, 2000, 2100, 2200, 2300, 2400, 2500, 2600, 2700, 2800, 2900, 3000, 3100, 3200, 3300, 3400, 3500,
  3600, 3700, 3800, 3900, 4000, 4100, 4200, 4300, 4400, 4500, 4600, 4700, 4800, 4900, 5000, 5100, 5200, 5300,
  5400, 5500, 5600, 5700, 5800, 5900, 6000, 6100, 6200, 6300, 6400, 6500, 6600, 6700, 6800, 6900, 7000, 7100, 7200,
];
const saTickLabels = [2000, 3000, 4000, 5000, 6000, 7000];
const dhbTickLabels = [2500, 3500, 4500, 5500, 6500];
// the original figure prints some labels a little off their ticks
const tickNudge: Record<number, number> = { 2000: 3, 3000: 3, 4000: 3, 5000: 2, 6000: 3, 7000: 3, 6500: 13 };

const FONT = "'Liberation Serif', 'Times New Roman', serif";
const AXIS_H = 46;

interface SpectrumProps {
  data: Pt[];
  peaks: Peak[];
  left: number;
  top: number;
  width: number;
  height: number;
  domain: [number, number];
  tickLabels?: number[];
  tickSize?: number;
  tickMargin?: number;
}

function Spectrum({ data, peaks, left, top, width, height, domain, tickLabels, tickSize = 5, tickMargin = 8 }: SpectrumProps) {
  const rows = data.map(([mz, i]) => ({ mz, i }));
  const withAxis = !!tickLabels;
  const h = withAxis ? height + AXIS_H : height;

  const renderTick = (props: any) => {
    const v = props.payload?.value as number;
    if (!tickLabels || !tickLabels.includes(v)) return <g />;
    return (
      <text
        x={props.x + (tickNudge[v] || 0)}
        y={props.y}
        dy="0.71em"
        textAnchor="middle"
        fill="#000"
        fontSize={32}
        fontFamily={FONT}
      >
        {v}
      </text>
    );
  };

  return (
    <div style={{ position: "absolute", left, top, width, height: h, overflow: "hidden" }}>
      <LineChart width={width} height={h} data={rows} margin={{ top: 0, right: 0, bottom: 0, left: 0 }}>
        <XAxis
          dataKey="mz"
          type="number"
          domain={domain}
          allowDataOverflow
          hide={!withAxis}
          height={AXIS_H}
          ticks={mzTicks}
          interval={0}
          axisLine={false}
          tickLine={{ stroke: "#000", strokeWidth: 1.2 }}
          tickSize={tickSize}
          tickMargin={tickMargin}
          tick={renderTick}
        />
        <YAxis type="number" domain={[0, 100]} hide allowDataOverflow />
        <Line
          dataKey="i"
          type="linear"
          stroke="#000"
          strokeWidth={1.1}
          dot={false}
          activeDot={false}
          isAnimationActive={false}
        />
        {peaks
          .filter((p) => p.ly - 1.8 - (p.top + 0.6) > 0.8)
          .map((p) => (
            <ReferenceLine
              key={"l" + p.text}
              segment={[
                { x: p.mz, y: p.top + 0.6 },
                { x: p.mz, y: p.ly - 1.8 },
              ]}
              stroke="#000"
              strokeWidth={1}
              strokeDasharray="1 2"
            />
          ))}
        {peaks.map((p) => (
          <ReferenceDot
            key={"t" + p.text}
            x={p.lx}
            y={p.ly}
            r={0}
            shape={(props: any) => (
              <text x={props.cx} y={props.cy} textAnchor="middle" fontFamily={FONT} fontSize={32} fill="#000">
                {p.text}
              </text>
            )}
          />
        ))}
      </LineChart>
    </div>
  );
}

const LEFT_DOMAIN: [number, number] = [1784, 7266];
const RIGHT_DOMAIN: [number, number] = [1789, 7267];

export default function App() {
  const bold = { fontFamily: FONT, fontSize: 32, fontWeight: 700 } as const;
  const plain = { fontFamily: FONT, fontSize: 32 } as const;
  return (
    <div style={{ position: "absolute", left: 0, top: 0, width: 1640, height: 969, background: "#fff", overflow: "hidden" }}>
      <Spectrum data={saRep1} peaks={saPeaks1} left={12} top={12} width={796} height={305} domain={LEFT_DOMAIN} />
      <Spectrum data={saRep2} peaks={saPeaks2} left={12} top={317} width={796} height={306} domain={LEFT_DOMAIN} />
      <Spectrum
        data={saRep3}
        peaks={saPeaks3}
        left={12}
        top={623}
        width={796}
        height={306}
        domain={LEFT_DOMAIN}
        tickLabels={saTickLabels}
        tickSize={5}
        tickMargin={8}
      />
      <Spectrum data={dhbRep1} peaks={dhbPeaks1} left={834} top={12} width={803} height={305} domain={RIGHT_DOMAIN} />
      <Spectrum data={dhbRep2} peaks={dhbPeaks2} left={834} top={317} width={803} height={305} domain={RIGHT_DOMAIN} />
      <Spectrum
        data={dhbRep3}
        peaks={dhbPeaks3}
        left={834}
        top={622}
        width={803}
        height={301}
        domain={RIGHT_DOMAIN}
        tickLabels={dhbTickLabels}
        tickSize={7}
        tickMargin={11}
      />
      <svg width={1640} height={969} style={{ position: "absolute", left: 0, top: 0, pointerEvents: "none" }}>
        <g fill="none" stroke="#000" strokeWidth={1.6}>
          <rect x={11.5} y={12.5} width={796.5} height={916.5} />
          <line x1={11.5} x2={808} y1={317} y2={317} />
          <line x1={11.5} x2={808} y1={623} y2={623} />
          <rect x={833.5} y={12.5} width={804} height={910.5} />
          <line x1={833.5} x2={1637.5} y1={317} y2={317} />
          <line x1={833.5} x2={1637.5} y1={622} y2={622} />
        </g>
        <g fill="#000">
          <text x={127} y={48.5} style={plain}>Cell lysates in SA</text>
          <text x={792} y={48.5} textAnchor="end" style={bold}>Technical replicate</text>
          <text x={660} y={86} textAnchor="middle" style={bold}>#1</text>
          <text x={793} y={349} textAnchor="end" style={bold}>Technical replicate</text>
          <text x={662} y={386} textAnchor="middle" style={bold}>#2</text>
          <text x={792} y={659} textAnchor="end" style={bold}>Technical replicate</text>
          <text x={661} y={697} textAnchor="middle" style={bold}>#3</text>

          <text x={881} y={48.5} style={plain}>Cell lysates in DHB</text>
          <text x={1625} y={48.5} textAnchor="end" style={bold}>Technical replicate</text>
          <text x={1496} y={86} textAnchor="middle" style={bold}>#1</text>
          <text x={1625} y={349} textAnchor="end" style={bold}>Technical replicate</text>
          <text x={1496} y={386} textAnchor="middle" style={bold}>#2</text>
          <text x={1625} y={653} textAnchor="end" style={bold}>Technical replicate</text>
          <text x={1496} y={690} textAnchor="middle" style={bold}>#3</text>

          <text x={800} y={965} style={{ fontFamily: FONT, fontSize: 30, fontStyle: "italic" }}>m/z.</text>
          <text x={1588} y={965} style={{ fontFamily: FONT, fontSize: 30, fontStyle: "italic" }}>m/z.</text>
        </g>
      </svg>
    </div>
  );
}
